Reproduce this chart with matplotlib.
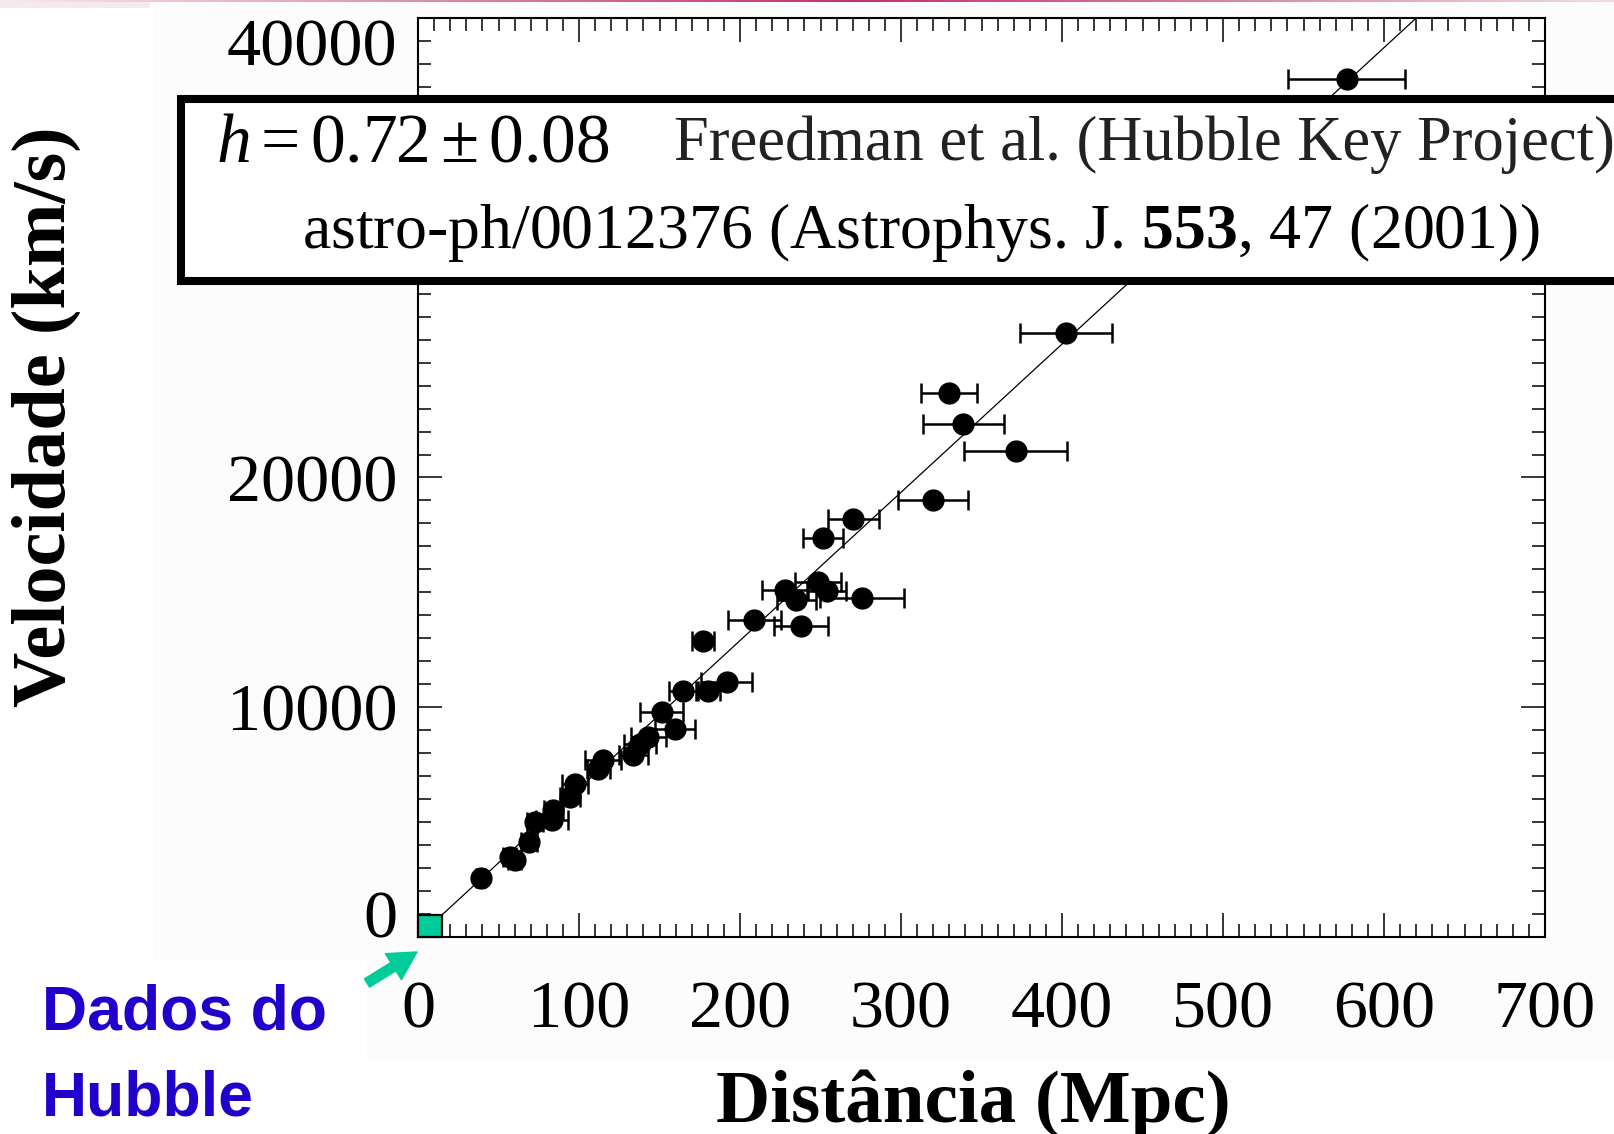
import matplotlib
matplotlib.use('Agg')
import matplotlib.pyplot as plt
from matplotlib.patches import Rectangle, FancyArrowPatch
from matplotlib.colors import LinearSegmentedColormap
from matplotlib.ticker import MultipleLocator
import numpy as np

plt.rcParams['font.family'] = ['Liberation Serif', 'DejaVu Serif']
plt.rcParams['mathtext.fontset'] = 'custom'
plt.rcParams['mathtext.rm'] = 'Liberation Serif'
plt.rcParams['mathtext.it'] = 'Liberation Serif:italic'
plt.rcParams['mathtext.bf'] = 'Liberation Serif:bold'

# galaxy distances (Mpc), recession velocities (km/s), distance errors (Mpc)
dist_mpc = [38.9, 57.0, 60.0, 69.0, 72.7, 83.0, 84.0, 94.4, 97.5, 112.0,
            115.0, 133.7, 138.0, 143.0, 151.4, 159.6, 164.8, 180.3, 191.7,
            177.0, 209.0, 238.0, 228.0, 235.0, 248.6, 253.8, 275.6, 251.7,
            270.4, 320.0, 371.2, 338.7, 330.0, 402.5, 576.8]
vel_kms = [2580, 3500, 3350, 4140, 5010, 5090, 5520, 6100, 6680, 7330,
           7700, 7910, 8420, 8710, 9800, 9070, 10700, 10700, 11100,
           12880, 13780, 13535, 15090, 14650, 15450, 15055, 14750, 17370,
           18200, 19000, 21143, 22335, 23665, 26274, 37333]
dist_err = [3, 4, 4, 5, 5, 10, 6, 6, 8, 7,
            11, 9, 10, 11, 13.5, 12.4, 9, 7.5, 16,
            7, 16.6, 16.8, 14.5, 12, 14.3, 12, 26, 12.4,
            15.7, 21.7, 31.8, 25, 17.5, 28.5, 36.3]

# fitted Hubble law
fit_dist = [0, 620]
fit_vel = [0, 40000]

# extent of the local (Hubble) data box
hst_dist = 15
hst_vel = 950

x_ticks = [0, 100, 200, 300, 400, 500, 600, 700]
y_ticks = [0, 10000, 20000, 30000, 40000]
y_ticklabels = ['0', '10000', '20000', '', '40000']

W, H = 1614, 1134
fig = plt.figure(figsize=(W / 100, H / 100), dpi=100)

# faint background of the pasted plot
fig.add_artist(Rectangle((153 / W, 1 - 960 / H), 1, 960 / H, transform=fig.transFigure,
                         facecolor='#fcfcfc', edgecolor='none', zorder=-10))
fig.add_artist(Rectangle((367 / W, 1 - 1062 / H), 1, 102 / H, transform=fig.transFigure,
                         facecolor='#fcfcfc', edgecolor='none', zorder=-10))
fig.add_artist(Rectangle((0, 1 - 8 / H), 150 / W, 8 / H, transform=fig.transFigure,
                         facecolor='#f4eaee', edgecolor='none', zorder=-9))

# slide header strip
strip = fig.add_axes([0, 1 - 2.5 / H, 1, 2.5 / H])
strip.axis('off')
cmap = LinearSegmentedColormap.from_list('strip', [(0, '#f6e9ee'), (0.53, '#c0306f'), (1, '#f0dbe4')])
strip.imshow(np.linspace(0, 1, 256)[None, :], aspect='auto', cmap=cmap)

ax = fig.add_axes([418 / W, 1 - 937 / H, 1127 / W, 919 / H])
ax.set_facecolor('white')

ax.plot(fit_dist, fit_vel, color='black', lw=0.9, zorder=2)
ax.errorbar(dist_mpc, vel_kms, xerr=dist_err, fmt='o', color='black', ms=15,
            elinewidth=1.8, capsize=7, capthick=1.8, zorder=3)
ax.add_patch(Rectangle((0, 0), hst_dist, hst_vel, facecolor='#00cc99',
                       edgecolor='black', lw=1.6, zorder=4, clip_on=False))

ax.set_xlim(0, 700)
ax.set_ylim(0, 40000)
ax.set_xticks(x_ticks)
ax.set_yticks(y_ticks, y_ticklabels)
ax.xaxis.set_minor_locator(MultipleLocator(10))
ax.yaxis.set_minor_locator(MultipleLocator(1000))
ax.tick_params(which='both', direction='in', top=True, right=True, width=1.1)
ax.tick_params(which='major', length=17)
ax.tick_params(which='minor', length=9.5)
ax.tick_params(axis='x', labelsize=49, pad=31)
ax.tick_params(axis='y', labelsize=49, pad=15)
for sp in ax.spines.values():
    sp.set_linewidth(1.5)

# keep the end labels of the velocity axis inside the frame
yt = ax.yaxis.get_major_ticks()
yt[0].label1.set_verticalalignment('baseline')
yt[-1].label1.set_verticalalignment('top')

fig.text(46 / W, 1 - 417 / H, 'Velocidade (km/s)', rotation=90, ha='center', va='center',
         fontsize=55, fontweight='bold')
fig.text(973 / W, 1 - 1122 / H, 'Distância (Mpc)', ha='center', va='baseline',
         fontsize=54, fontweight='bold')

# reference box
fig.add_artist(Rectangle((181 / W, 1 - 281 / H), 1, 182 / H, transform=fig.transFigure,
                         facecolor='white', edgecolor='black', lw=5.8, zorder=5))
fig.text(216 / W, 1 - 162 / H, r'$h = 0.72 \pm 0.08$', fontsize=50, va='baseline', zorder=6)
fig.text(674 / W, 1 - 160 / H, 'Freedman et al. (Hubble Key Project)', fontsize=45,
         color='#222222', va='baseline', zorder=6)
fig.text(302 / W, 1 - 248 / H, r'astro-ph/0012376 (Astrophys. J. $\mathbf{553}$, 47 (2001))',
         fontsize=46, va='baseline', zorder=6)

# caption pointing at the local data
fig.text(42 / W, 1 - 1030 / H, 'Dados do', fontsize=45, fontweight='bold', color='#2200cc',
         family='Liberation Sans', va='baseline')
fig.text(42 / W, 1 - 1115 / H, 'Hubble', fontsize=45, fontweight='bold', color='#2200cc',
         family='Liberation Sans', va='baseline')
fig.add_artist(FancyArrowPatch((367 / W, 1 - 983 / H), (417 / W, 1 - 952 / H),
                               transform=fig.transFigure, color='#00cc99',
                               arrowstyle='simple,head_width=1.1,head_length=1.0,tail_width=0.35',
                               mutation_scale=20, shrinkA=0, shrinkB=0))

fig.savefig('out.png', dpi=100)
